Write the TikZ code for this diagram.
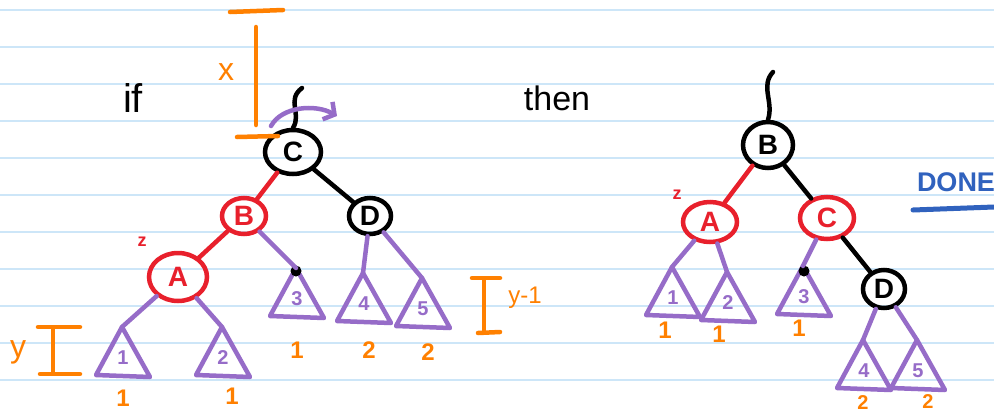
\documentclass[tikz,border=0pt]{standalone}
\usepackage{fontspec}
\setmainfont{Liberation Sans}
\usetikzlibrary{shapes.geometric,arrows.meta}
\definecolor{penred}{RGB}{232,32,44}
\definecolor{penpurple}{RGB}{150,108,200}
\definecolor{penorange}{RGB}{255,128,0}
\definecolor{penblue}{RGB}{48,98,190}
\definecolor{ruled}{RGB}{205,230,248}
\tikzset{
rb/.style={ellipse, line width=4.5pt, inner sep=0pt, font=\fontsize{28}{28}\selectfont\bfseries},
blk/.style={rb, draw=black, text=black},
rd/.style={rb, draw=penred, text=penred},
edge/.style={line width=4.5pt, line cap=round},
sub/.style={edge, draw=penpurple},
hgt/.style={line width=4.5pt, draw=penorange, line cap=round},
hlab/.style={text=penorange, font=\fontsize{24}{24}\selectfont\bfseries},
}
% subtree: name, apex x, apex y, label
\newcommand{\subtri}[4]{%
\coordinate (#1) at (#2,#3);
\draw[sub, line join=round] (#1) -- ++(-26,48) -- ++(54,2) -- cycle;
\node[text=penpurple, font=\fontsize{20}{20}\selectfont\bfseries] (#1l) at (#2+1,#3+31) {#4};
}
\begin{document}
\begin{tikzpicture}[x=1pt,y=-1pt]
\useasboundingbox (0,0) rectangle (994,416);
\fill[white] (0,0) rectangle (994,416);
\foreach \k in {0,...,10}
\draw[ruled, line width=1.2pt] (0,10+37*\k) -- (994,10+37*\k);

% left tree (before)
\node[font=\fontsize{40}{40}\selectfont] (if) at (133,98) {if};
\node[blk, minimum width=56, minimum height=44] (C) at (293,152) {C};
\node[rd, minimum width=44, minimum height=36] (B) at (244,216) {B};
\node[blk, minimum width=42, minimum height=36] (D) at (370,216) {D};
\node[rd, minimum width=58, minimum height=48] (A) at (178,277) {A};
\node[text=penred, font=\fontsize{18}{18}\selectfont\bfseries] (zA) at (142,242) {z};
\subtri{s1}{122}{327}{1}
\subtri{s2}{222}{327}{2}
\subtri{s3}{296}{268}{3}
\subtri{s4}{363}{273}{4}
\subtri{s5}{422}{278}{5}
\fill (s3) ++(0,3) circle[radius=5.5];
\draw[edge, penred] (C) -- (B);
\draw[edge] (C) -- (D);
\draw[edge, penred] (B) -- (A);
\draw[sub] (A) -- (s1);
\draw[sub] (A) -- (s2);
\draw[sub] (B) -- (s3);
\draw[sub] (D) -- (s4);
\draw[sub] (D) -- (s5);
\coordinate (Ctop) at (302,88);
\draw[edge] (Ctop) .. controls (286,100) and (302,114) .. (C.north);
\coordinate (rotL) at (271,126);
\coordinate (rotR) at (337,116);
\draw[line width=4.5pt, penpurple, line cap=round, -{Straight Barb[length=8pt,width=20pt]}] (rotL) .. controls (282,106) and (316,104) .. (rotR);
\node[hlab] (h1) at (123,398) {1};
\node[hlab] (h2) at (232,396) {1};
\node[hlab] (h3) at (297,350) {1};
\node[hlab] (h4) at (369,350) {2};
\node[hlab] (h5) at (428,352) {2};
% height bars
\draw[hgt] (230,12) -- (283,10);
\draw[hgt] (256,27) -- (256,125);
\draw[hgt] (237,137) -- (278,136);
\node[hlab, font=\fontsize{32}{32}\selectfont] (bx) at (226,72) {x};
\draw[hgt] (38,327) -- (80,327);
\draw[hgt] (53,329) -- (53,373);
\draw[hgt] (40,374) -- (80,374);
\node[hlab, font=\fontsize{32}{32}\selectfont] (by) at (18,352) {y};
\draw[hgt] (472,278) -- (500,278);
\draw[hgt] (484,280) -- (484,331);
\draw[hgt] (478,333) -- (500,332);
\node[hlab, font=\fontsize{24}{24}\selectfont] (bym) at (525,298) {y-1};

% right tree (after)
\node[font=\fontsize{34}{34}\selectfont] (then) at (557,98) {then};
\node[blk, minimum width=50, minimum height=46] (B2) at (768,145) {B};
\node[rd, minimum width=54, minimum height=40] (A2) at (710,222) {A};
\node[rd, minimum width=54, minimum height=42] (C2) at (827,218) {C};
\node[blk, minimum width=42, minimum height=38] (D2) at (884,289) {D};
\node[text=penred, font=\fontsize{18}{18}\selectfont\bfseries] (zA2) at (677,195) {z};
\subtri{r1}{672}{267}{1}
\subtri{r2}{727}{272}{2}
\subtri{r3}{803}{266}{3}
\subtri{r4}{863}{340}{4}
\subtri{r5}{917}{340}{5}
\fill (r3) ++(1,5) circle[radius=5.5];
\draw[edge, penred] (B2) -- (A2);
\draw[edge] (B2) -- (C2);
\draw[edge] (C2) -- (D2);
\draw[sub] (A2) -- (r1);
\draw[sub] (A2) -- (r2);
\draw[sub] (C2) -- (r3);
\draw[sub] (D2) -- (r4);
\draw[sub] (D2) -- (r5);
\coordinate (Btop) at (773,72);
\draw[edge] (Btop) .. controls (760,86) and (774,102) .. (B2.north);
\node[hlab] (g1) at (665,330) {1};
\node[hlab] (g2) at (719,334) {1};
\node[hlab] (g3) at (799,328) {1};
\node[hlab, font=\fontsize{20}{20}\selectfont\bfseries] (g4) at (863,403) {2};
\node[hlab, font=\fontsize{20}{20}\selectfont\bfseries] (g5) at (928,402) {2};
\node[text=penblue, font=\fontsize{27}{27}\selectfont\bfseries] (done) at (956,182) {DONE};
\coordinate (ulL) at (913,210);
\coordinate (ulR) at (994,207);
\draw[line width=5pt, penblue, line cap=round] (ulL) -- (ulR);
\end{tikzpicture}
\end{document}
